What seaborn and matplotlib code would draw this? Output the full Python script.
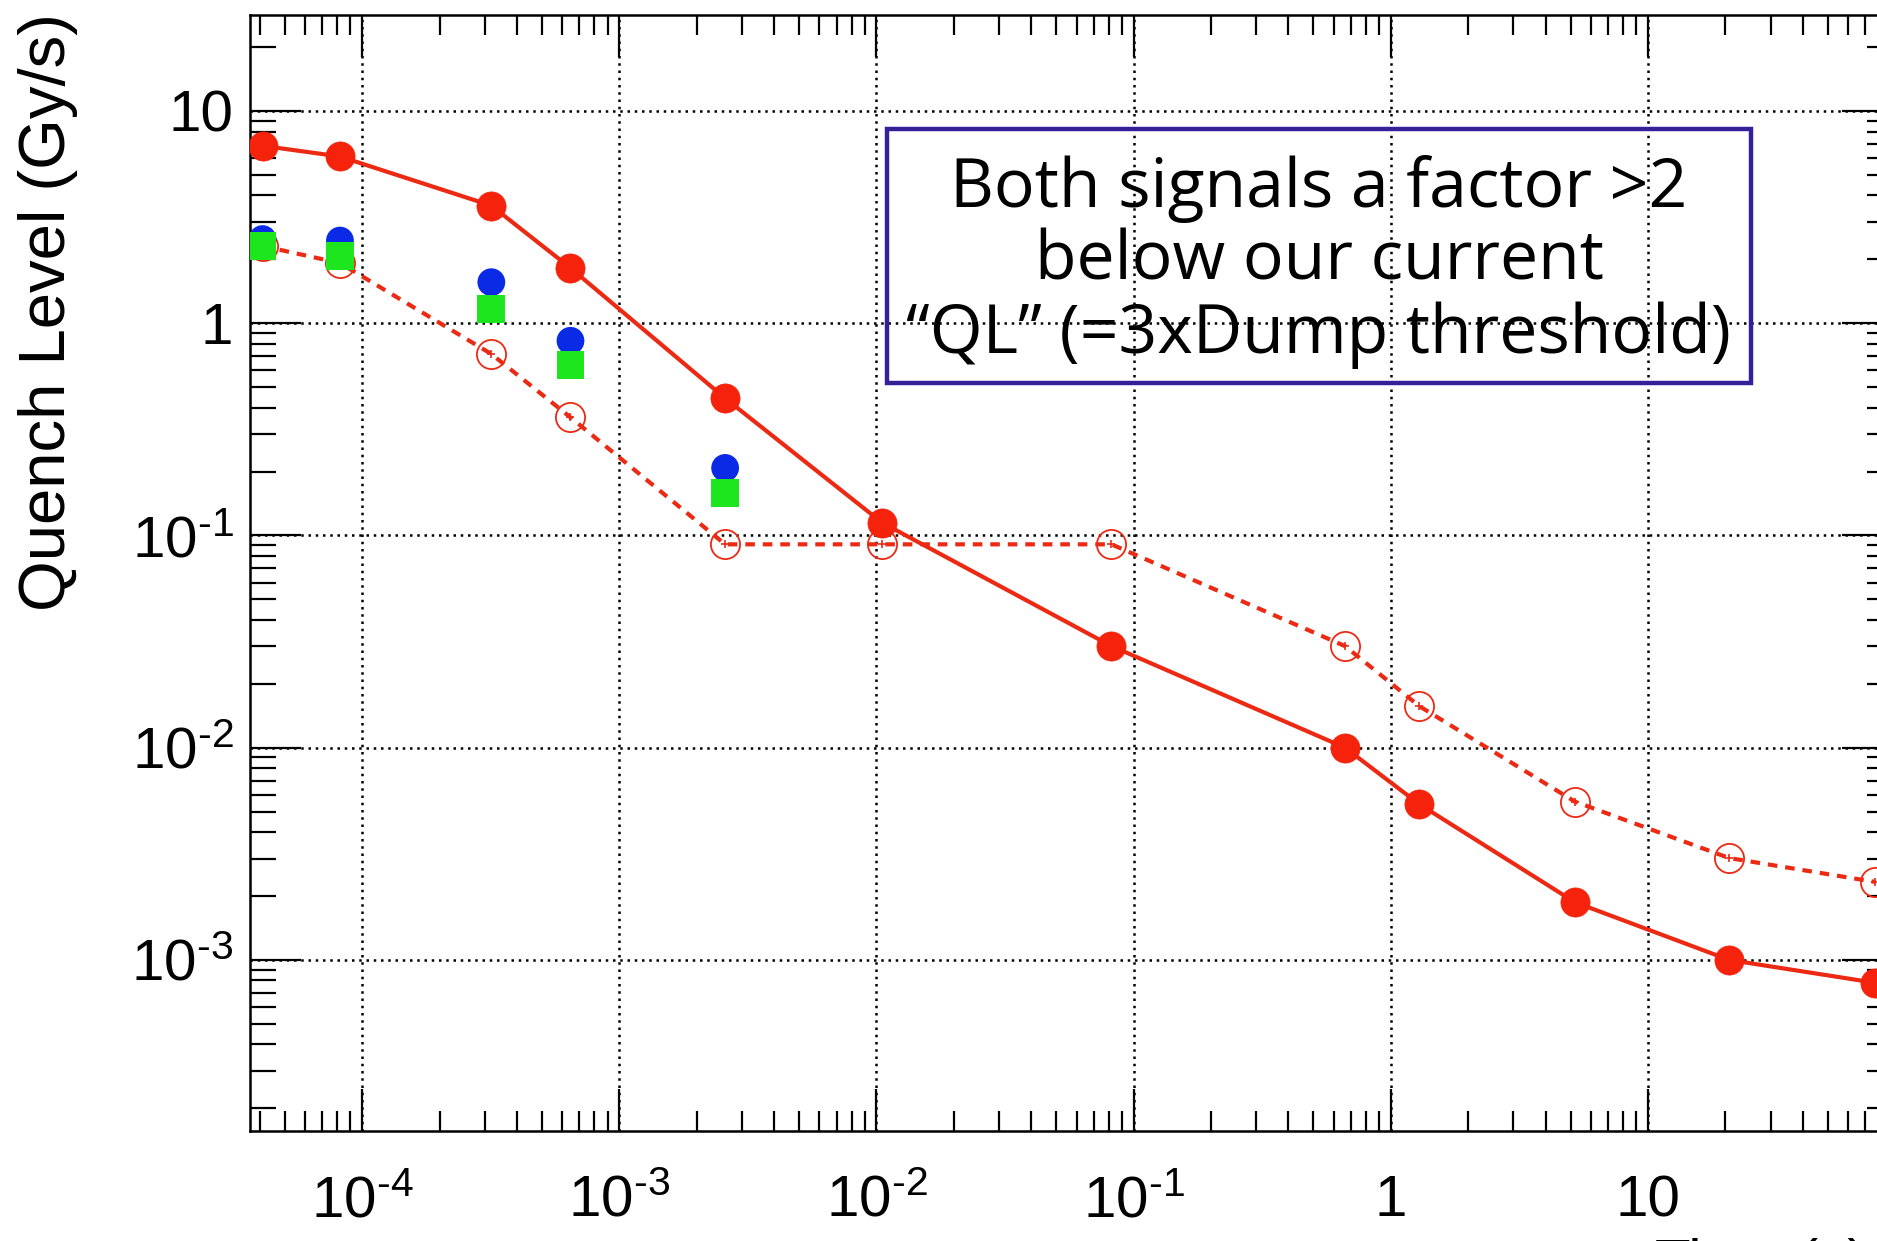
import numpy as np
import pandas as pd
import matplotlib
matplotlib.use("Agg")
import matplotlib.pyplot as plt
import matplotlib.ticker as mticker
from matplotlib.patches import Rectangle
import seaborn as sns

# ---------------- data ----------------
time_s = [4.1e-5, 8.2e-5, 3.18e-4, 6.46e-4, 2.58e-3, 1.05e-2, 8.2e-2, 0.664, 1.29, 5.2, 20.7, 76.7]
ql_solid = [6.85, 6.1, 3.58, 1.82, 0.443, 0.115, 0.0301, 0.0100, 0.00542, 0.00187, 0.00100, 0.00078]
ql_dashed = [2.31, 1.92, 0.716, 0.360, 0.0908, 0.0908, 0.0908, 0.0301, 0.0157, 0.00557, 0.00302, 0.00233]
sig_time = [4.1e-5, 8.2e-5, 3.18e-4, 6.46e-4, 2.58e-3]
sig_blue = [2.49, 2.45, 1.56, 0.826, 0.208]
sig_green = [2.31, 2.08, 1.17, 0.637, 0.159]

x_major_ticks = [1e-4, 1e-3, 1e-2, 1e-1, 1, 10]
y_major_ticks = [1e-3, 1e-2, 1e-1, 1, 10]

box_lines = ["Both signals a factor >2", "below our current", "\u201cQL\u201d (=3xDump threshold)"]
ylabel = "Quench Level (Gy/s)"
xlabel = "Time (s)"

# ---------------- style ----------------
sns.set_style("ticks")
plt.rcParams["font.family"] = ["Liberation Sans", "DejaVu Sans"]
plt.rcParams["mathtext.default"] = "regular"

W, H = 1877, 1241
fig = plt.figure(figsize=(W / 100, H / 100), dpi=100)
fig.patch.set_facecolor("white")

left_px, right_px, top_px, bot_px = 250, 1893, 15, 1131
ax = fig.add_axes([left_px / W, 1 - bot_px / H, (right_px - left_px) / W, (bot_px - top_px) / H])
ax.set_facecolor("white")
ax.set_xscale("log")
ax.set_yscale("log")

red = "#f5220c"
red_line = "#ec2a14"
blue = "#0a2ae6"
green = "#1ee61e"

df_solid = pd.DataFrame({"t": time_s, "q": ql_solid})
df_dash = pd.DataFrame({"t": time_s, "q": ql_dashed})
df_sig = pd.DataFrame({"t": sig_time, "blue": sig_blue, "green": sig_green})

sns.lineplot(data=df_dash, x="t", y="q", ax=ax, sort=False, estimator=None,
             color=red_line, linewidth=3.0, linestyle=(0, (2.3, 1.9)),
             marker="o", markersize=21, markerfacecolor="none",
             markeredgecolor=red_line, markeredgewidth=1.3, zorder=3)
sns.scatterplot(data=df_dash, x="t", y="q", ax=ax, marker="+", s=40,
                color=red_line, linewidth=1.2, zorder=3)
sns.lineplot(data=df_solid, x="t", y="q", ax=ax, sort=False, estimator=None,
             color=red_line, linewidth=3.0, marker="o", markersize=21,
             markerfacecolor=red, markeredgecolor=red, markeredgewidth=0.5, zorder=4)
sns.scatterplot(data=df_sig, x="t", y="blue", ax=ax, marker="o", s=20 ** 2,
                color=blue, edgecolor="none", linewidth=0, zorder=5)
sns.scatterplot(data=df_sig, x="t", y="green", ax=ax, marker="s", s=20 ** 2,
                color=green, edgecolor="none", linewidth=0, zorder=6)

ax.set_xlim(10 ** -4.436, 10 ** (1 + (right_px - 1648) / 257.1))
ax.set_ylim(10 ** -3.806, 10 ** 1.452)
ax.set_xlabel("")
ax.set_ylabel("")


def logfmt(v, pos):
    e = int(round(np.log10(v)))
    if e == 0:
        return "1"
    if e == 1:
        return "10"
    if e < 0:
        return "$\\mathregular{10^{\u2010%d}}$" % (-e)
    return r"$\mathregular{10^{%d}}$" % e


ax.xaxis.set_major_locator(mticker.FixedLocator(x_major_ticks))
ax.yaxis.set_major_locator(mticker.FixedLocator(y_major_ticks))
for axis in (ax.xaxis, ax.yaxis):
    axis.set_minor_locator(mticker.LogLocator(base=10, subs=np.arange(2, 10), numticks=100))
    axis.set_major_formatter(mticker.FuncFormatter(logfmt))
    axis.set_minor_formatter(mticker.NullFormatter())

ax.tick_params(axis="both", which="both", direction="in", top=True, right=True,
               color="black", width=1.6, labelsize=42, labelcolor="black")
ax.tick_params(axis="x", which="major", length=30, pad=31)
ax.tick_params(axis="x", which="minor", length=14.5)
ax.tick_params(axis="y", which="major", length=37, pad=12)
ax.tick_params(axis="y", which="minor", length=18.5)

ax.grid(True, which="major", color="black", linestyle=(0, (1, 1.9)), linewidth=1.8, zorder=1)
ax.set_axisbelow(True)
for sp in ax.spines.values():
    sp.set_color("black")
    sp.set_linewidth(1.8)
    sp.set_visible(True)

# annotation box (no fill: grid shows through)
bx0, bx1, by0, by1 = 887, 1751, 129, 383
fig.patches.append(Rectangle((bx0 / W, 1 - by1 / H), (bx1 - bx0) / W, (by1 - by0) / H,
                             transform=fig.transFigure, fill=False,
                             edgecolor="#36209a", linewidth=3.2, zorder=10))
fig.text((bx0 + bx1) / 2 / W, 1 - 262 / H, "\n".join(box_lines), ha="center", va="center",
         multialignment="center", fontsize=49, linespacing=1.1,
         family=["Open Sans", "DejaVu Sans"], color="black", zorder=11)

fig.text(48 / W, 1 - 13 / H, ylabel, rotation=90, ha="center", va="top", fontsize=47, color="black")
fig.text(1655 / W, 1 - 1238 / H, xlabel, ha="left", va="top", fontsize=42, color="black")

fig.savefig("out.png", dpi=100, facecolor="white")
